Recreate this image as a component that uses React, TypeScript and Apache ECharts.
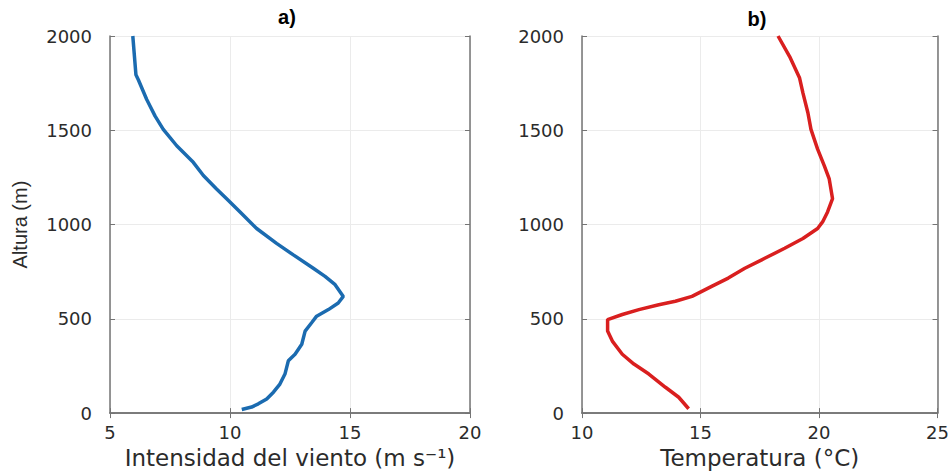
import * as echarts from "echarts";
import { useEffect, useRef } from "react";

// wind profile (panel a)
const windHeight = [
  2000, 1795, 1768, 1663, 1575, 1505, 1418, 1330, 1260, 1189, 1137, 1067, 979, 900, 839,
  768, 725, 681, 619, 584, 549, 514, 479, 435, 365, 312, 277, 207, 154, 111, 75, 49, 32, 19,
];
const windSpeed = [
  5.95, 6.08, 6.18, 6.53, 6.88, 7.22, 7.78, 8.47, 8.89, 9.44, 9.86, 10.42, 11.11, 11.94,
  12.64, 13.47, 13.96, 14.38, 14.72, 14.51, 14.1, 13.61, 13.4, 13.13, 12.99, 12.71, 12.43,
  12.29, 12.08, 11.81, 11.53, 11.18, 10.9, 10.49,
];

// temperature profile (panel b)
const tempHeight = [
  2000, 1891, 1777, 1698, 1593, 1505, 1400, 1312, 1242, 1137, 1067, 1014, 979, 926, 874,
  821, 768, 716, 672, 619, 593, 575, 549, 523, 496, 435, 382, 312, 260, 207, 137, 84, 23,
];
const temperature = [
  18.27, 18.76, 19.18, 19.32, 19.53, 19.66, 19.94, 20.22, 20.43, 20.57, 20.36, 20.15, 19.94,
  19.32, 18.55, 17.71, 16.87, 16.17, 15.47, 14.64, 13.94, 13.24, 12.4, 11.7, 11.08, 11.08,
  11.28, 11.7, 12.19, 12.82, 13.52, 14.08, 14.5,
];

const heightTicks = [0, 500, 1000, 1500, 2000];

const textColor = "#2b2b2b";
const boxColor = "#747474";
const gridColor = "#ebebeb";
const tickFont = "DejaVu Sans";

function bottomAxis(gridIndex: number, min: number, max: number, name: string) {
  return {
    type: "value" as const,
    gridIndex,
    position: "bottom" as const,
    min,
    max,
    interval: 5,
    name,
    nameLocation: "middle" as const,
    nameGap: 32,
    nameTextStyle: { color: textColor, fontSize: 23, fontFamily: tickFont },
    axisLine: { show: true, lineStyle: { color: boxColor, width: 1.5 } },
    axisTick: { show: true, inside: true, length: 5, lineStyle: { color: boxColor } },
    axisLabel: { color: textColor, fontSize: 18, fontFamily: tickFont, margin: 10 },
    splitLine: { show: true, lineStyle: { color: gridColor, width: 1 } },
  };
}

function topAxis(gridIndex: number, min: number, max: number) {
  return {
    type: "value" as const,
    gridIndex,
    position: "top" as const,
    min,
    max,
    interval: 5,
    axisLine: { show: true, lineStyle: { color: boxColor, width: 1.5 } },
    axisTick: { show: true, inside: true, length: 5, lineStyle: { color: boxColor } },
    axisLabel: { show: false },
    splitLine: { show: false },
  };
}

function leftAxis(gridIndex: number, name: string) {
  return {
    type: "value" as const,
    gridIndex,
    position: "left" as const,
    min: 0,
    max: 2000,
    interval: 500,
    name,
    nameLocation: "middle" as const,
    nameRotate: 90,
    nameGap: 80,
    nameTextStyle: { color: textColor, fontSize: 20, fontFamily: "Liberation Sans" },
    axisLine: { show: true, lineStyle: { color: boxColor, width: 1.5 } },
    axisTick: { show: true, inside: true, length: 5, lineStyle: { color: boxColor } },
    axisLabel: {
      color: textColor,
      fontSize: 18,
      fontFamily: tickFont,
      margin: 18,
      formatter: (v: number) => (heightTicks.includes(v) ? String(v) : ""),
    },
    splitLine: { show: true, lineStyle: { color: gridColor, width: 1 } },
  };
}

function rightAxis(gridIndex: number) {
  return {
    type: "value" as const,
    gridIndex,
    position: "right" as const,
    min: 0,
    max: 2000,
    interval: 500,
    axisLine: { show: true, lineStyle: { color: boxColor, width: 1.5 } },
    axisTick: { show: true, inside: true, length: 5, lineStyle: { color: boxColor } },
    axisLabel: { show: false },
    splitLine: { show: false },
  };
}

export default function App() {
  const ref = useRef<HTMLDivElement>(null);

  useEffect(() => {
    if (!ref.current) return;
    const chart = echarts.init(ref.current, undefined, { renderer: "svg" });
    chart.setOption({
      animation: false,
      backgroundColor: "#ffffff",
      graphic: [
        {
          type: "text",
          x: 287,
          y: 17,
          style: {
            text: "a)",
            fill: "#000",
            font: "bold 20px 'Liberation Sans'",
            align: "center",
            verticalAlign: "middle",
          },
        },
        {
          type: "text",
          x: 757,
          y: 19,
          style: {
            text: "b)",
            fill: "#000",
            font: "bold 20px 'Liberation Sans'",
            align: "center",
            verticalAlign: "middle",
          },
        },
      ],
      grid: [
        { left: 110, top: 36, width: 360, height: 380 },
        { left: 582, top: 36, width: 358, height: 380 },
      ],
      xAxis: [
        bottomAxis(0, 5, 20, "Intensidad del viento (m s\u207B\u00B9)"),
        topAxis(0, 5, 20),
        bottomAxis(1, 10, 25, "Temperatura (\u00B0C)"),
        topAxis(1, 10, 25),
      ],
      yAxis: [leftAxis(0, "Altura (m)"), rightAxis(0), leftAxis(1, ""), rightAxis(1)],
      series: [
        {
          type: "line",
          xAxisIndex: 0,
          yAxisIndex: 0,
          showSymbol: false,
          lineStyle: { color: "#1b6bb0", width: 3.5 },
          data: windSpeed.map((v, i) => [v, windHeight[i]]),
        },
        {
          type: "line",
          xAxisIndex: 2,
          yAxisIndex: 2,
          showSymbol: false,
          lineStyle: { color: "#d91f1f", width: 3.5 },
          data: temperature.map((v, i) => [v, tempHeight[i]]),
        },
      ],
    });
    return () => chart.dispose();
  }, []);

  return (
    <div
      ref={ref}
      style={{ position: "absolute", left: 0, top: 0, width: 952, height: 474 }}
    />
  );
}
